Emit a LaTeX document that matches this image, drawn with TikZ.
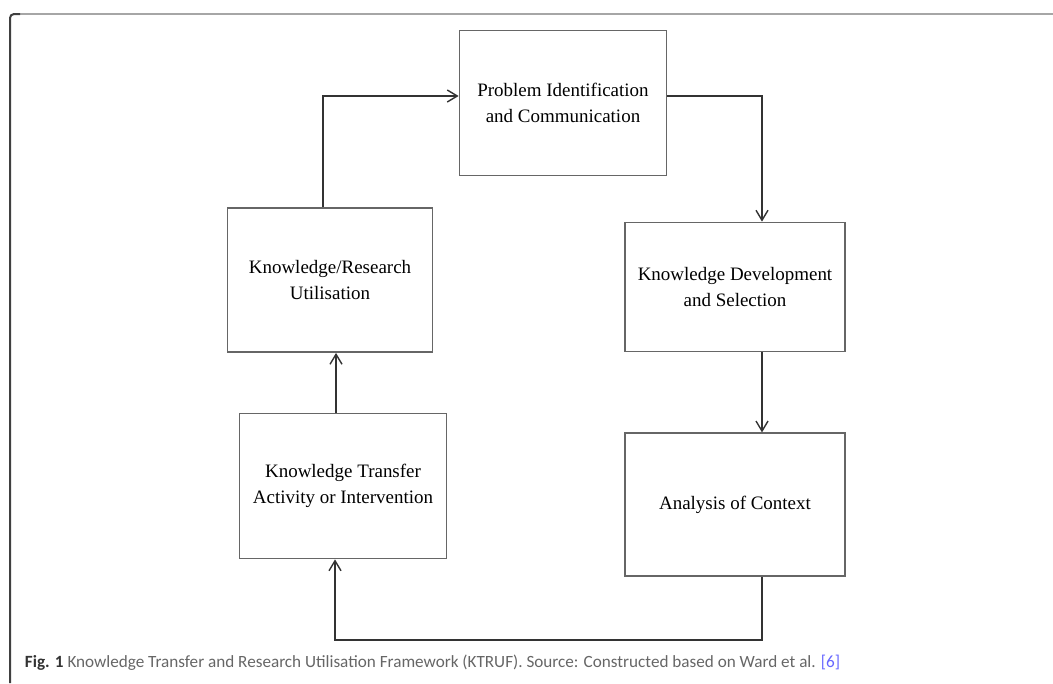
\documentclass[tikz,border=0pt]{standalone}
\usepackage{fontspec}
\setmainfont{Liberation Serif}
\newfontfamily\captionfont{Carlito}
\usetikzlibrary{positioning,arrows.meta,calc}
\tikzset{
	>={Straight Barb[length=2.5mm,width=3mm]}
}

\begin{document}
\begin{tikzpicture}[
x = 0.25mm, y = -0.25mm,
every node/.style = {
	font = \fontsize{13.5}{18.5}\selectfont
},
stage/.style = {
	draw = black!60,
	line width = 0.45mm,
	align = center,
	inner sep = 0pt
},
link/.style = {
	->,
	draw = black!80,
	line width = 0.35mm
},
legend/.style = {
	font = \captionfont\fontsize{12.2}{14}\selectfont,
	text = black!60
}
]
\useasboundingbox (0,0) rectangle (1053,683);

% frame
\draw[black!35, line width=0.5mm] (14,14) -- (1053,14);
\draw[black!75, line width=0.5mm, rounded corners=1mm] (10,683) -- (10,14) -- (20,14);

\node[stage, minimum width=51.75mm, minimum height=36.25mm] (problem) at (563,103)
	{Problem Identification\\and Communication};
\node[stage, minimum width=51.25mm, minimum height=36mm] (use) at (330,280)
	{Knowledge/Research\\Utilisation};
\node[stage, minimum width=51.75mm, minimum height=36.25mm] (transfer) at (343,486)
	{Knowledge Transfer\\Activity or Intervention};
\node[stage, minimum width=55mm, minimum height=32.25mm] (develop) at (735,287)
	{Knowledge Development\\and Selection};
\node[stage, minimum width=55mm, minimum height=35.75mm, below=20mm of develop] (context)
	{Analysis of Context};

\coordinate (loop) at (0,640);

\draw[link] ([xshift=-1.75mm]use.north) |- ([yshift=1.75mm]problem.west);
\draw[link] ([yshift=1.75mm]problem.east) -| ([xshift=6.75mm]develop.north);
\draw[link] ([xshift=6.75mm]develop.south) -- ([xshift=6.75mm]context.north);
\draw[link] ([xshift=6.75mm]context.south) -- ([xshift=6.75mm]context.south |- loop)
	-| ([xshift=-2mm]transfer.south);
\draw[link] ([xshift=-1.75mm]transfer.north) -- ([xshift=-1.75mm]transfer.north |- use.south);

\node[legend, anchor=base west] (caption) at (20,667)
	{\textbf{\textcolor{black!80}{Fig. 1}} Knowledge Transfer and Research Utilisation Framework (KTRUF). Source: Constructed based on Ward et al. \textcolor{blue!60}{[6]}};
\end{tikzpicture}
\end{document}
